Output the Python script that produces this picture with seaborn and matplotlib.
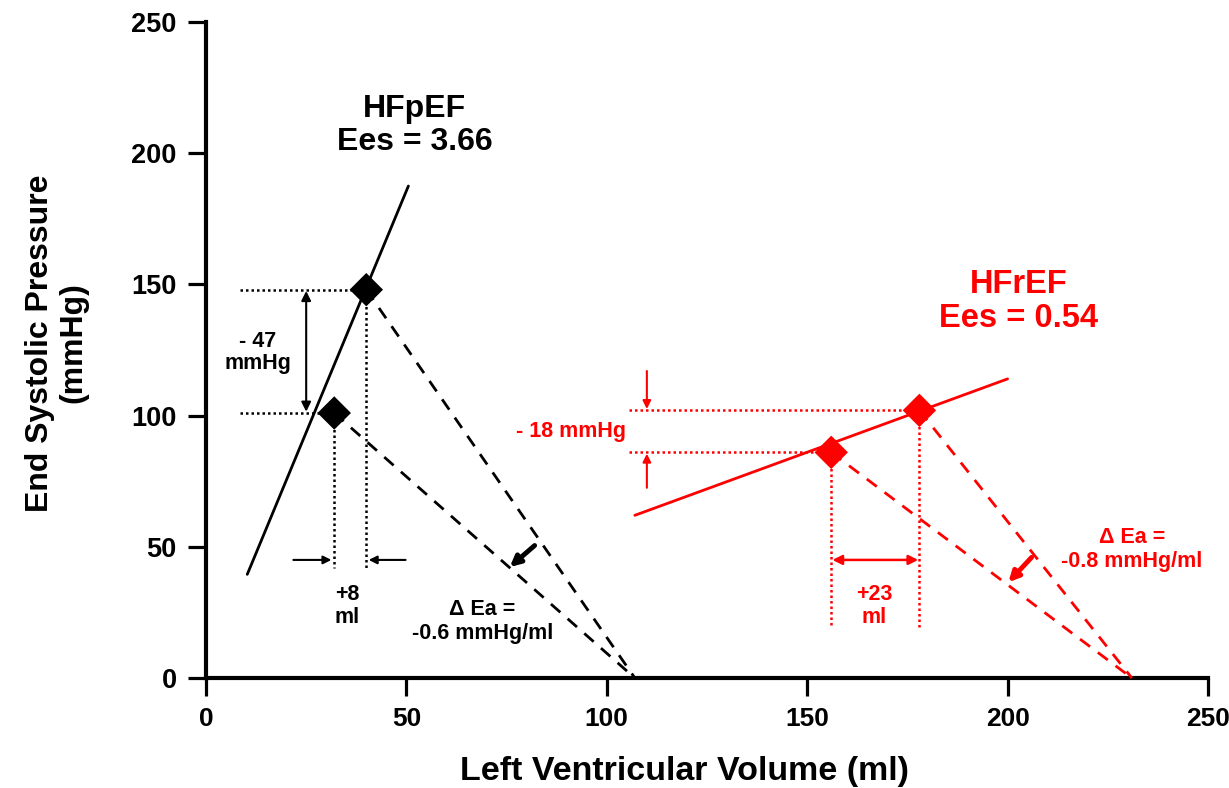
import matplotlib
matplotlib.use("Agg")
import matplotlib.pyplot as plt
import seaborn as sns
import pandas as pd

# ---------------- data ----------------
hfpef_vol = [32, 40]          # end systolic volume (ml): after, before
hfpef_pres = [101, 148]       # end systolic pressure (mmHg)
hfref_vol = [156, 178]
hfref_pres = [86, 102]

hfpef_espvr_vol = [10.3, 50.5]
hfpef_espvr_pres = [39.5, 187.5]
hfref_espvr_vol = [107, 200]
hfref_espvr_pres = [62, 114]

hfpef_ved = 107               # Ea lines meet the volume axis here
hfref_ved = 231

x_ticks = [0, 50, 100, 150, 200, 250]
y_ticks = [0, 50, 100, 150, 200, 250]

BLACK = "#000000"
RED = "#ff0000"

sns.set_theme(style="ticks")
plt.rcParams["font.family"] = ["Liberation Sans", "DejaVu Sans"]
plt.rcParams["font.weight"] = "bold"
plt.rcParams["text.color"] = BLACK
plt.rcParams["axes.labelcolor"] = BLACK
plt.rcParams["xtick.color"] = BLACK
plt.rcParams["ytick.color"] = BLACK

fig = plt.figure(figsize=(12.29, 7.88), dpi=100)
ax = fig.add_axes([0.1676, 0.1396, 0.8153, 0.8324])

def line(vx, vy, color, lw=2.0, dashes=None):
    df = pd.DataFrame({"v": vx, "p": vy})
    sns.lineplot(data=df, x="v", y="p", ax=ax, color=color, lw=lw,
                 sort=False, estimator=None)
    l = ax.lines[-1]
    if dashes is not None:
        l.set_dashes(dashes)
    return l

for vol, pres, espv, espp, ved, col in [
    (hfpef_vol, hfpef_pres, hfpef_espvr_vol, hfpef_espvr_pres, hfpef_ved, BLACK),
    (hfref_vol, hfref_pres, hfref_espvr_vol, hfref_espvr_pres, hfref_ved, RED),
]:
    # ESPVR
    line(espv, espp, col, lw=2.0)
    # Ea lines (dashed)
    for v, p in zip(vol, pres):
        line([v, ved], [p, 0], col, lw=2.0, dashes=(4.5, 3.5))

# dotted guide lines - HFpEF
for v, p in zip(hfpef_vol, hfpef_pres):
    line([8.5, v], [p, p], BLACK, lw=1.8, dashes=(1, 1.2))
    line([v, v], [p, 42], BLACK, lw=1.8, dashes=(1, 1.2))
# dotted guide lines - HFrEF
for v, p in zip(hfref_vol, hfref_pres):
    line([105.5, v], [p, p], RED, lw=1.8, dashes=(1, 1.2))
    line([v, v], [p, 19], RED, lw=1.8, dashes=(1, 1.2))

# diamonds
pts = pd.DataFrame({
    "v": hfpef_vol + hfref_vol,
    "p": hfpef_pres + hfref_pres,
    "g": ["HFpEF"] * 2 + ["HFrEF"] * 2,
})
sns.scatterplot(data=pts, x="v", y="p", hue="g", palette={"HFpEF": BLACK, "HFrEF": RED},
                marker="D", s=290, edgecolor="none", legend=False, ax=ax, zorder=5)

# ---------------- arrows ----------------
def arrow(x0, y0, x1, y1, col, style="-|>", lw=1.5, ms=12):
    ax.annotate("", xy=(x1, y1), xytext=(x0, y0),
                arrowprops=dict(arrowstyle=style, color=col, lw=lw,
                                mutation_scale=ms, shrinkA=0, shrinkB=0))

# HFpEF pressure change (double headed)
arrow(25, 147.5, 25, 101.5, BLACK, style="<|-|>", lw=1.5, ms=14)
# HFpEF volume change arrows
arrow(21.8, 45, 31.3, 45, BLACK)
arrow(49.8, 45, 40.6, 45, BLACK)
# HFpEF Ea arrow
arrow(82, 50.5, 75.8, 42.3, BLACK, lw=3.5, ms=15)

# HFrEF pressure change arrows
arrow(110, 117, 110, 102.5, RED)
arrow(110, 72.5, 110, 85.5, RED)
# HFrEF volume change (double headed)
arrow(156.3, 45, 177.7, 45, RED, style="<|-|>", lw=1.8, ms=14)
# HFrEF Ea arrow
arrow(206, 46, 200.2, 36.5, RED, lw=3.5, ms=15)

# ---------------- text ----------------
TS = 15.5
ax.text(52, 210.5, "HFpEF\nEes = 3.66", color=BLACK, fontsize=23, fontweight="bold",
        ha="center", va="center", linespacing=1.15)
ax.text(202.8, 143.5, "HFrEF\nEes = 0.54", color=RED, fontsize=23.5, fontweight="bold",
        ha="center", va="center", linespacing=1.15)
ax.text(13, 124, "- 47\nmmHg", color=BLACK, fontsize=TS, fontweight="bold",
        ha="center", va="center", linespacing=1.1)
ax.text(35.3, 27.5, "+8\nml", color=BLACK, fontsize=TS, fontweight="bold",
        ha="center", va="center", linespacing=1.15)
ax.text(69, 21.5, "Δ Ea =\n-0.6 mmHg/ml", color=BLACK, fontsize=TS, fontweight="bold",
        ha="center", va="center", linespacing=1.15)
ax.text(91, 94, "- 18 mmHg", color=RED, fontsize=TS, fontweight="bold",
        ha="center", va="center")
ax.text(166.8, 27.5, "+23\nml", color=RED, fontsize=TS, fontweight="bold",
        ha="center", va="center", linespacing=1.15)
ax.text(231, 49, "Δ Ea =\n-0.8 mmHg/ml", color=RED, fontsize=TS, fontweight="bold",
        ha="center", va="center", linespacing=1.15)

# ---------------- axes ----------------
ax.set_xlim(0, 250)
ax.set_ylim(0, 250)
ax.set_xticks(x_ticks)
ax.set_yticks(y_ticks)
ax.set_xticklabels([str(t) for t in x_ticks], fontsize=19, fontweight="bold")
ax.set_yticklabels([str(t) for t in y_ticks], fontsize=19.5, fontweight="bold")
ax.tick_params(axis="both", direction="out", length=13, width=2.3, color=BLACK, pad=8)
for s in ["top", "right"]:
    ax.spines[s].set_visible(False)
for s in ["left", "bottom"]:
    ax.spines[s].set_linewidth(3)
    ax.spines[s].set_color(BLACK)
    ax.spines[s].set_zorder(1)
ax.set_xlabel("Left Ventricular Volume (ml)", fontsize=24.5, fontweight="bold")
ax.set_ylabel("End Systolic Pressure\n(mmHg)", fontsize=23, fontweight="bold",
              linespacing=1.15)
ax.xaxis.set_label_coords(0.478, -0.142)
ax.xaxis.label.set_va("center")
ax.yaxis.set_label_coords(-0.149, 0.511)
ax.yaxis.label.set_va("center")
ax.yaxis.label.set_ha("center")
for l in ax.lines:
    l.set_clip_on(False)

fig.savefig("out.png", dpi=100)
